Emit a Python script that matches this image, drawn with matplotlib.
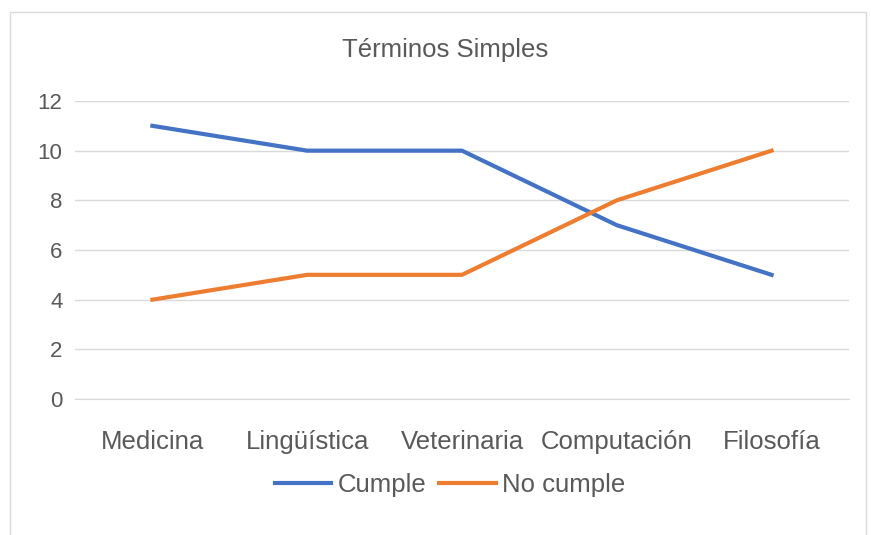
import matplotlib.pyplot as plt
from matplotlib.patches import Rectangle

categories = ["Medicina", "Lingüística", "Veterinaria", "Computación", "Filosofía"]
cumple = [11, 10, 10, 7, 5]
no_cumple = [4, 5, 5, 8, 10]
y_ticks = [0, 2, 4, 6, 8, 10, 12]

plt.rcParams['font.family'] = ['Liberation Sans Narrow', 'Liberation Sans', 'DejaVu Sans']
text_color = '#595959'

fig = plt.figure(figsize=(8.71, 5.35), dpi=100)
# chart border
fig.patches.append(Rectangle((10 / 871, -0.01), 856 / 871, 1 - 12 / 535 + 0.01,
                             transform=fig.transFigure, fill=False,
                             edgecolor='#d9d9d9', linewidth=1))

ax = fig.add_axes([75 / 871, 1 - 399 / 535, 774 / 871, 298 / 535])
x = list(range(len(categories)))
ax.plot(x, cumple, color='#4472C4', linewidth=3, label='Cumple')
ax.plot(x, no_cumple, color='#ED7D31', linewidth=3, label='No cumple')

ax.set_xlim(-0.5, len(categories) - 0.5)
ax.set_ylim(0, 12)
ax.set_yticks(y_ticks)
ax.set_xticks(x)
ax.set_xticklabels(categories)
ax.yaxis.grid(True, color='#d9d9d9', linewidth=1)
ax.set_axisbelow(True)
for side in ['top', 'right', 'left']:
    ax.spines[side].set_visible(False)
ax.spines['bottom'].set_color('#d9d9d9')
ax.tick_params(axis='both', length=0, colors=text_color)
ax.tick_params(axis='x', labelsize=18.5, pad=22)
ax.tick_params(axis='y', labelsize=16, pad=9)

fig.text(445 / 871, 1 - 50 / 535, 'Términos Simples', ha='center', va='center',
         fontsize=18.5, color=text_color)

leg = fig.legend(loc='center', bbox_to_anchor=(450 / 871, 1 - 485 / 535), ncol=2,
                 frameon=False, fontsize=18.5, handlelength=2.2, columnspacing=0.5,
                 handletextpad=0.25)
for t in leg.get_texts():
    t.set_color(text_color)

fig.savefig('out.png', dpi=100)
